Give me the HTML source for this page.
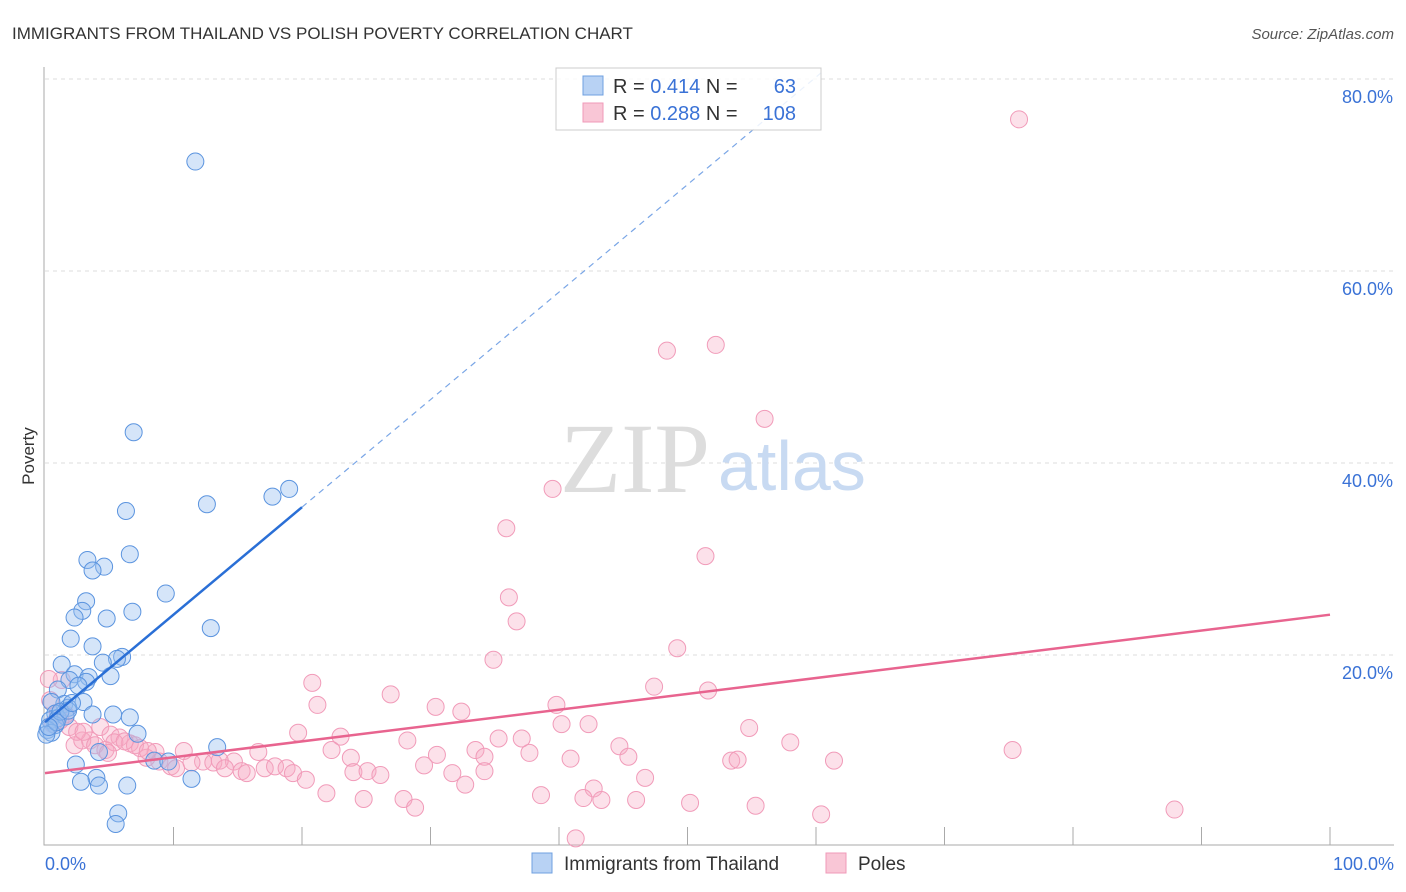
<!DOCTYPE html>
<html><head><meta charset="utf-8"><style>
body{margin:0;background:#fff;font-family:"Liberation Sans",sans-serif;}
svg{display:block}
</style></head><body>
<svg id="c" width="1406" height="892">
<text x="12" y="39" font-size="17" fill="#333">IMMIGRANTS FROM THAILAND VS POLISH POVERTY CORRELATION CHART</text>
<text x="1394" y="39" font-size="15" fill="#555" font-style="italic" text-anchor="end">Source: ZipAtlas.com</text>
<text x="34" y="456" font-size="17" fill="#333" transform="rotate(-90 34 456)" text-anchor="middle">Poverty</text>
<g id="grid"></g>
<text x="560" y="492" font-size="100" fill="#ddd" font-family="Liberation Serif">ZIP</text>
<text x="718" y="490" font-size="70" fill="#c8daf2">atlas</text>
<g id="marks"></g>
<g>
<rect x="556" y="68" width="265" height="62" fill="rgba(255,255,255,0.85)" stroke="#ccc"/>
<rect x="583" y="76" width="20" height="19" fill="#b8d2f4" stroke="#6fa0e0"/>
<rect x="583" y="103" width="20" height="19" fill="#f9c6d6" stroke="#f09ab8"/>
<text x="613" y="93" font-size="20" fill="#333">R = <tspan fill="#3a72d6">0.414</tspan>   N = </text>
<text x="796" y="93" font-size="20" fill="#3a72d6" text-anchor="end">63</text>
<text x="613" y="120" font-size="20" fill="#333">R = <tspan fill="#3a72d6">0.288</tspan>   N = </text>
<text x="796" y="120" font-size="20" fill="#3a72d6" text-anchor="end">108</text>
</g>
<g>
<rect x="532" y="853" width="20" height="20" fill="#b8d2f4" stroke="#6fa0e0"/>
<text x="564" y="870" font-size="19" fill="#333">Immigrants from Thailand</text>
<rect x="826" y="853" width="20" height="20" fill="#f9c6d6" stroke="#f09ab8"/>
<text x="858" y="870" font-size="19" fill="#333">Poles</text>
</g>
</svg>
<script>
const yTicks=[20,40,60,80];
const yTickLabels=["20.0%","40.0%","60.0%","80.0%"];
const xTickLabels=["0.0%","100.0%"];
const blueX=[11.7,6.9,12.6,17.7,19.0,6.3,6.6,3.3,4.6,3.7,9.4,3.2,2.9,6.8,2.3,4.8,2.0,12.9,3.7,6.0,5.6,4.5,1.3,2.3,3.4,5.1,1.9,3.2,2.6,1.0,3.0,1.5,0.5,1.8,0.8,3.7,5.3,6.6,0.4,1.0,1.6,0.8,0.2,0.5,7.2,13.4,4.2,8.5,9.6,2.4,4.0,2.8,4.2,6.4,11.4,5.7,5.5,1.2,0.1,0.9,1.8,2.1,0.3];
const blueY=[71.4,43.2,35.7,36.5,37.3,35.0,30.5,29.9,29.2,28.8,26.4,25.6,24.6,24.5,23.9,23.8,21.7,22.8,20.9,19.8,19.6,19.2,19.0,18.0,17.7,17.8,17.4,17.2,16.8,16.4,15.1,14.9,15.1,14.5,13.9,13.8,13.8,13.5,13.2,13.4,13.6,12.7,12.2,11.9,11.8,10.4,9.9,9.0,8.9,8.6,7.2,6.8,6.4,6.4,7.1,3.5,2.4,14.1,11.7,13.0,14.2,15.0,12.5];
const pinkX=[75.8,52.2,48.4,56.0,39.5,35.9,51.4,36.1,36.7,49.2,34.9,20.8,47.4,51.6,26.9,21.2,39.8,30.4,32.4,42.3,40.2,54.8,19.7,28.2,23.0,35.3,37.1,58.0,22.3,33.5,44.7,75.3,16.6,8.6,10.8,37.7,30.5,23.8,45.4,61.4,53.4,53.9,40.9,34.2,29.5,8.9,12.3,13.1,14.7,13.6,11.4,9.8,10.2,7.9,17.1,17.9,18.8,19.3,15.3,15.7,14.0,24.0,25.1,26.1,31.7,34.2,20.3,46.7,32.7,42.7,38.6,21.9,24.8,27.9,28.8,41.9,43.3,46.0,50.2,55.3,60.4,87.9,41.3,4.3,3.5,1.9,5.1,5.8,6.6,2.3,2.9,3.9,4.7,7.4,1.2,0.4,1.6,5.4,7.0,4.9,1.3,0.3,2.5,6.2,8.0,3.0,1.0,0.6];
const pinkY=[75.8,52.3,51.7,44.6,37.3,33.2,30.3,26.0,23.5,20.7,19.5,17.1,16.7,16.3,15.9,14.8,14.8,14.6,14.1,12.8,12.8,12.4,11.9,11.1,11.5,11.3,11.3,10.9,10.1,10.1,10.5,10.1,9.9,9.9,10.0,9.8,9.6,9.3,9.4,9.0,9.0,9.1,9.2,9.4,8.5,8.9,8.9,8.8,8.9,9.0,8.8,8.4,8.2,9.3,8.2,8.4,8.2,7.7,7.9,7.7,8.2,7.8,7.9,7.5,7.7,7.9,7.0,7.2,6.5,6.1,5.4,5.6,5.0,5.0,4.1,5.1,4.9,4.9,4.6,4.3,3.4,3.9,0.9,12.5,11.1,12.5,11.7,11.4,10.8,10.6,11.1,10.6,10.1,10.3,13.2,15.3,13.8,10.9,10.6,9.8,17.4,17.5,12.0,11.0,10.0,12.0,14.0,12.8];
const blueTrend=[13.0,1.12];
const pinkTrend=[7.7,0.165];
const NS="http://www.w3.org/2000/svg";
const X0=45,X1=1330,Y0=847,PY=9.6;
function sx(v){return X0+(X1-X0)*v/100;}
function sy(v){return Y0-v*PY;}
function mk(tag,attrs,parent){const e=document.createElementNS(NS,tag);for(const k in attrs)e.setAttribute(k,attrs[k]);parent.appendChild(e);return e;}
const grid=document.getElementById('grid'),marks=document.getElementById('marks');
yTicks.forEach((t,i)=>{
 const l=mk('line',{x1:45,x2:1394,y1:sy(t),y2:sy(t),stroke:'#ddd','stroke-dasharray':'4,4'},grid);
 
 
 const tx=mk('text',{x:1393,y:sy(t)+24,'font-size':18,fill:'#3a72d6','text-anchor':'end'},grid);
 tx.textContent=yTickLabels[i];
 
 
});
const ax=mk('path',{d:'M44 67 V845 H1394',stroke:'#aaa',fill:'none'},grid);


for(let i=1;i<=10;i++){const x=45+i*128.5;const t=mk('line',{x1:x,x2:x,y1:827,y2:845,stroke:'#aaa'},grid);
 
 }
const xl0=mk('text',{x:45,y:870,'font-size':18,fill:'#3a72d6'},grid);xl0.textContent=xTickLabels[0];


const xl1=mk('text',{x:1394,y:870,'font-size':18,fill:'#3a72d6','text-anchor':'end'},grid);xl1.textContent=xTickLabels[1];


pinkX.forEach((v,i)=>{const c=mk('circle',{cx:sx(v),cy:sy(pinkY[i]),r:8.5,fill:'rgba(246,168,194,0.35)',stroke:'#f19bb9','stroke-width':1},marks);
 
 });
blueX.forEach((v,i)=>{const c=mk('circle',{cx:sx(v),cy:sy(blueY[i]),r:8.5,fill:'rgba(150,190,240,0.4)',stroke:'#5b94df','stroke-width':1},marks);
 
 });
const pl=mk('line',{x1:sx(0),y1:sy(pinkTrend[0]),x2:sx(100),y2:sy(pinkTrend[0]+pinkTrend[1]*100),stroke:'#e8648f','stroke-width':2.5},marks);


const bl=mk('line',{x1:sx(0),y1:sy(blueTrend[0]),x2:sx(20),y2:sy(blueTrend[0]+blueTrend[1]*20),stroke:'#2a6fd6','stroke-width':2.5},marks);


const bd=mk('line',{x1:sx(20),y1:sy(blueTrend[0]+blueTrend[1]*20),x2:sx(60.5),y2:sy(blueTrend[0]+blueTrend[1]*60.5),stroke:'#7aa6e6','stroke-width':1.2,'stroke-dasharray':'6,5'},marks);


</script>
</body></html>
